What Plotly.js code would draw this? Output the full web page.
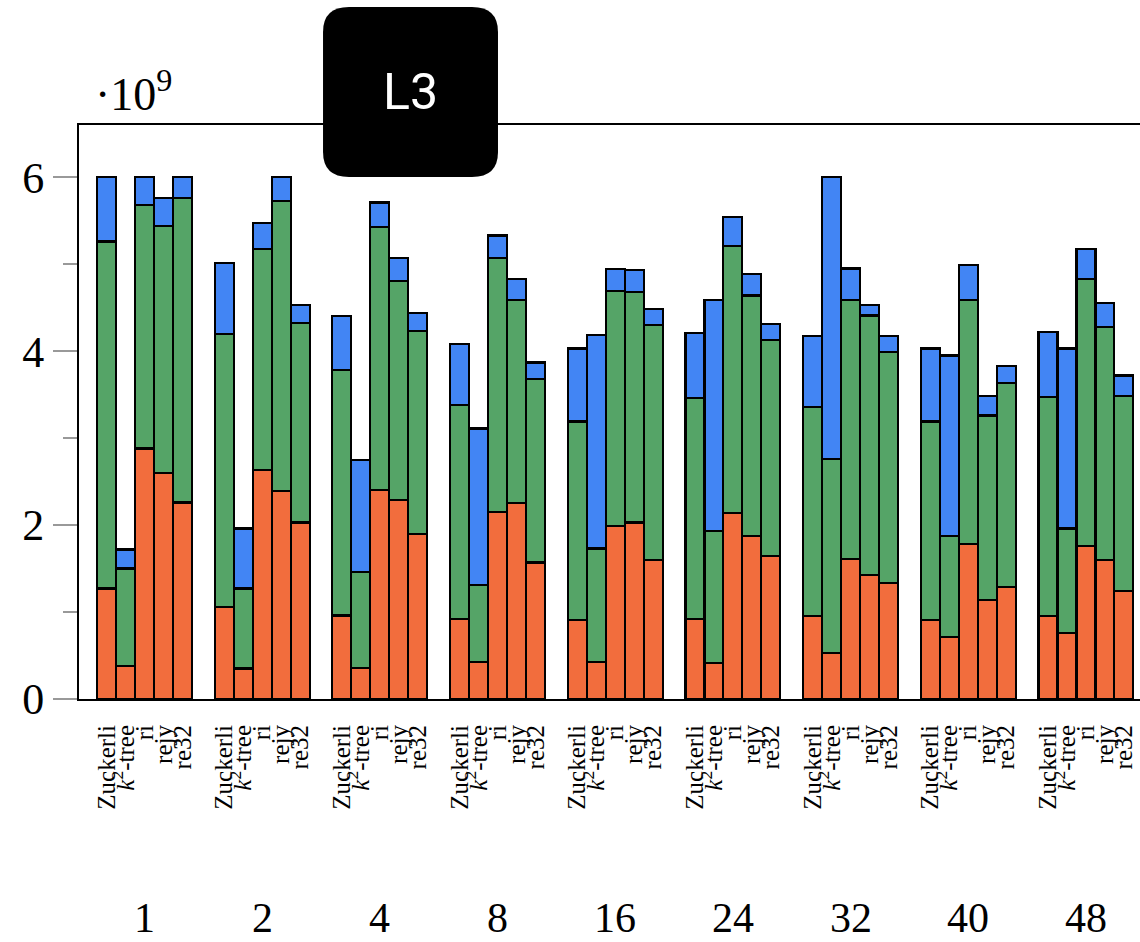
<!DOCTYPE html>
<html>
<head>
<meta charset="utf-8">
<script src="https://cdn.plot.ly/plotly-3.0.1.min.js"></script>
<style>html,body{margin:0;padding:0;background:#fff;}</style>
</head>
<body>
<div id="chart" style="width:1140px;height:942px;"></div>
<script>
// thread counts (groups) and methods (bars inside each group)
const threads = ["1", "2", "4", "8", "16", "24", "32", "40", "48"];
const methods = ["Zuckerli", "<i>k</i><sup>2</sup>-tree", "ri", "rejy", "re32"];

// stacked segment values (·10^9), one row per thread group, one column per method
const orangePart = [
  [1.27, 0.38, 2.88, 2.60, 2.26],
  [1.06, 0.35, 2.63, 2.39, 2.03],
  [0.96, 0.36, 2.40, 2.29, 1.90],
  [0.92, 0.43, 2.15, 2.25, 1.57],
  [0.91, 0.43, 1.99, 2.03, 1.60],
  [0.92, 0.41, 2.14, 1.87, 1.64],
  [0.95, 0.53, 1.61, 1.43, 1.33],
  [0.91, 0.71, 1.78, 1.14, 1.29],
  [0.95, 0.76, 1.76, 1.60, 1.24]
];
const greenPart = [
  [3.99, 1.12, 2.80, 2.84, 3.50],
  [3.14, 0.92, 2.54, 3.34, 2.29],
  [2.82, 1.10, 3.03, 2.52, 2.33],
  [2.46, 0.88, 2.92, 2.34, 2.11],
  [2.28, 1.30, 2.70, 2.65, 2.70],
  [2.54, 1.52, 3.07, 2.77, 2.49],
  [2.41, 2.23, 2.98, 2.98, 2.66],
  [2.28, 1.16, 2.81, 2.12, 2.34],
  [2.52, 1.20, 3.07, 2.68, 2.24]
];
const bluePart = [
  [0.74, 0.22, 0.32, 0.32, 0.24],
  [0.81, 0.69, 0.30, 0.27, 0.21],
  [0.62, 1.29, 0.28, 0.26, 0.21],
  [0.70, 1.80, 0.26, 0.24, 0.19],
  [0.84, 2.46, 0.25, 0.25, 0.18],
  [0.75, 2.66, 0.33, 0.25, 0.18],
  [0.81, 3.24, 0.36, 0.12, 0.18],
  [0.84, 2.08, 0.40, 0.22, 0.20],
  [0.75, 2.07, 0.34, 0.27, 0.24]
];

// layout helpers
const groupSpan = 6.2;
const xs = [], labels = [];
threads.forEach((t, g) => methods.forEach((m, j) => { xs.push(g * groupSpan + j); labels.push(m); }));
const flat = a => a.reduce((acc, r) => acc.concat(r), []);
const groupCenters = threads.map((t, g) => g * groupSpan + (methods.length - 1) / 2);

const outline = {color: "#000", width: 2.2};
function series(vals, color) {
  return {type: "bar", x: xs, y: flat(vals), width: 1,
          marker: {color: color, line: outline}, hoverinfo: "y", showlegend: false};
}
const traces = [
  series(orangePart, "#F26D3D"),
  series(greenPart, "#55A467"),
  series(bluePart, "#4285F4")
];

const serif = "Liberation Serif, DejaVu Serif, serif";
const annotations = threads.map((t, g) => ({
  text: t, x: groupCenters[g], xref: "x", y: -0.382, yref: "paper",
  showarrow: false, xanchor: "center", yanchor: "middle",
  font: {family: serif, size: 42, color: "#000"}
}));
annotations.push({
  text: "·10<sup>9</sup>", x: 0, xref: "paper", xanchor: "left", xshift: 14,
  y: 1.06, yref: "paper", yanchor: "middle", showarrow: false,
  font: {family: serif, size: 46, color: "#000"}
});
annotations.push({
  text: "L3", x: 0.3120, xref: "paper", y: 1.0575, yref: "paper",
  xanchor: "center", yanchor: "middle", showarrow: false,
  font: {family: "Roboto, Arial, sans-serif", size: 50, color: "#fff"}
});

// rounded box behind "L3"
const x0 = 0.2300, x1 = 0.3949, y0 = 0.9094, y1 = 1.2056, rx = 0.0245, ry = 0.0435;
const boxPath = `M ${x0 + rx} ${y0} L ${x1 - rx} ${y0} Q ${x1} ${y0} ${x1} ${y0 + ry} ` +
  `L ${x1} ${y1 - ry} Q ${x1} ${y1} ${x1 - rx} ${y1} L ${x0 + rx} ${y1} ` +
  `Q ${x0} ${y1} ${x0} ${y1 - ry} L ${x0} ${y0 + ry} Q ${x0} ${y0} ${x0 + rx} ${y0} Z`;

const layout = {
  width: 1140, height: 942,
  margin: {l: 79, r: 0, t: 125, b: 243, pad: 0},
  paper_bgcolor: "#fff", plot_bgcolor: "#fff",
  barmode: "stack",
  showlegend: false,
  xaxis: {
    range: [-1.45, 54.45], showgrid: false, zeroline: false,
    showline: true, linecolor: "#000", linewidth: 2, mirror: true,
    ticks: "", tickmode: "array", tickvals: xs, ticktext: labels,
    tickangle: -90, ticklabelstandoff: 14,
    tickfont: {family: serif, size: 25, color: "#000"}
  },
  yaxis: {
    range: [0, 6.6], showgrid: false, zeroline: false,
    showline: true, linecolor: "#000", linewidth: 2,
    ticks: "outside", ticklen: 24, tickwidth: 1.5, tickcolor: "#999",
    dtick: 2, tick0: 0,
    minor: {dtick: 1, ticks: "outside", ticklen: 14, tickwidth: 1.5, tickcolor: "#999"},
    tickfont: {family: serif, size: 44, color: "#000"}
  },
  shapes: [{type: "path", xref: "paper", yref: "paper", path: boxPath,
            fillcolor: "#000", line: {width: 0}, layer: "above"}],
  annotations: annotations
};

Plotly.newPlot("chart", traces, layout, {displayModeBar: false, staticPlot: true});
</script>
</body>
</html>
